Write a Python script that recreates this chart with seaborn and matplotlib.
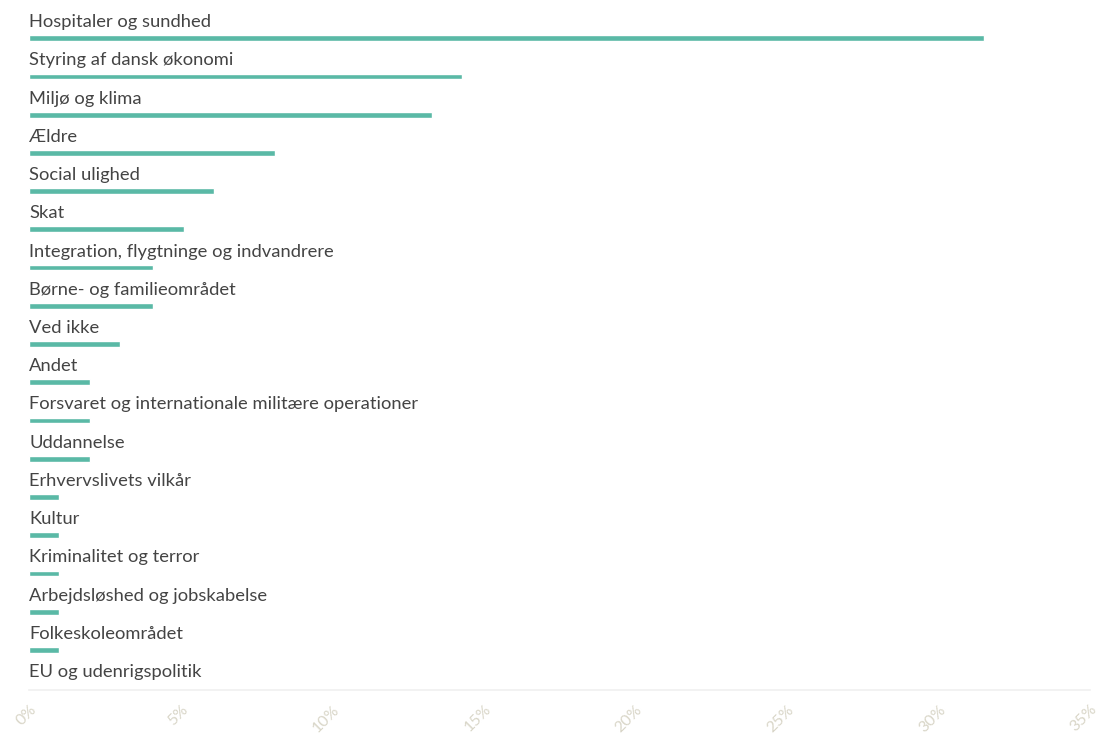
import matplotlib
matplotlib.use("Agg")
import matplotlib.pyplot as plt
import seaborn as sns
import pandas as pd

categories = [
    "Hospitaler og sundhed",
    "Styring af dansk økonomi",
    "Miljø og klima",
    "Ældre",
    "Social ulighed",
    "Skat",
    "Integration, flygtninge og indvandrere",
    "Børne- og familieområdet",
    "Ved ikke",
    "Andet",
    "Forsvaret og internationale militære operationer",
    "Uddannelse",
    "Erhvervslivets vilkår",
    "Kultur",
    "Kriminalitet og terror",
    "Arbejdsløshed og jobskabelse",
    "Folkeskoleområdet",
    "EU og udenrigspolitik",
]
values = [31.5, 14.3, 13.3, 8.1, 6.1, 5.1, 4.1, 4.1, 3.0, 2.0, 2.0, 2.0, 1.0, 1.0, 1.0, 1.0, 1.0, 0.0]
xticks = [0, 5, 10, 15, 20, 25, 30, 35]
xtick_labels = ["0%", "5%", "10%", "15%", "20%", "25%", "30%", "35%"]

sns.set_theme(style="white")
plt.rcParams["font.family"] = ["Lato", "DejaVu Sans"]

df = pd.DataFrame({"category": categories, "value": values})

fig = plt.figure(figsize=(11.2, 7.45), dpi=100)
ax = fig.add_axes([29 / 1120, 55 / 745, 1061 / 1120, 690 / 745])

sns.barplot(data=df, x="value", y="category", orient="h", color="#5ab9a6",
            width=0.15, ax=ax, saturation=1)

for i, cat in enumerate(categories):
    ax.text(0, i - 0.29, cat, ha="left", va="baseline", fontsize=13.2,
            color="#444444")

ax.set_xlim(0, 35)
ax.set_ylim(17.05, -1.0)
ax.set_xticks(xticks)
ax.set_xticklabels(xtick_labels, rotation=45, ha="right", va="top",
                   rotation_mode="anchor", color="#d9d6c8", fontsize=11.5)
ax.tick_params(axis="x", length=0, pad=9)
ax.set_yticks([])
ax.set_xlabel("")
ax.set_ylabel("")
for s in ["top", "right", "left"]:
    ax.spines[s].set_visible(False)
ax.spines["bottom"].set_color("#f0f0f0")
ax.spines["bottom"].set_linewidth(1.2)

fig.savefig("out.png", dpi=100, facecolor="white")
